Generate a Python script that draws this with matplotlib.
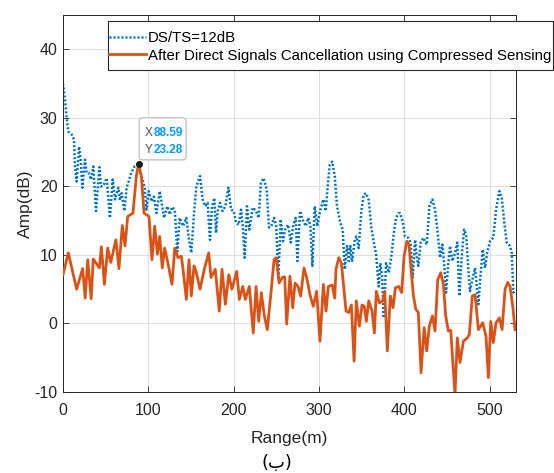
import matplotlib
matplotlib.use("Agg")
import matplotlib.pyplot as plt
from matplotlib.patches import FancyBboxPatch, Rectangle
from matplotlib.lines import Line2D
from matplotlib.transforms import IdentityTransform

# ---------------- data ----------------
range_blue = [0, 2.3, 4.3, 6.2, 10, 13, 14, 16, 18.8, 20.7, 22.7, 25.8, 27.7, 30, 32.8, 35.5,
              38.7, 42.6, 44.5, 47.3, 51.2, 55, 58.2, 61, 64.8, 66.8, 68.8, 71.9, 74.6, 77.7,
              80, 84, 88, 92, 95.8, 97.8, 100.5, 103.6, 106.5, 109.5, 113.4, 115.3, 118.5,
              122.3, 125, 128, 131, 134, 136.8, 140.7, 144.6, 147.7, 150.4, 153.6, 156.3,
              158.3, 160.6, 163.7, 166.8, 169.5, 172.3, 174.7, 177.4, 179.4, 181.4, 184, 187,
              190.3, 193.9, 197, 200.1, 202.8, 206, 208.7, 210.7, 213, 215.7, 218.4, 222.4,
              226.3, 229.4, 232, 235.2, 238.8, 241.4, 244.2, 247.4, 250, 252.4, 255.2, 257.9,
              260.3, 263.8, 267, 270, 272.8, 274.7, 277.9, 280.6, 284.6, 287.6, 290, 292.3,
              295.1, 298.1, 301.3, 305.2, 308, 309.9, 312.7, 315.6, 318.5, 321.2, 325, 327.9,
              330.2, 333, 335, 336.8, 338.8, 342, 343.8, 346.6, 349.7, 352.5, 355.2, 358.4,
              361.4, 364.3, 367, 370.1, 372, 374, 376, 378.7, 381.9, 384.9, 387.8, 390.4,
              393.6, 395, 398.2, 400.8, 404.7, 407.5, 409.9, 412.7, 414.6, 416.5, 419.3,
              422.4, 426.4, 429.5, 433, 436.1, 438.8, 442, 444.7, 446.7, 449, 451.7, 453.7,
              456.4, 459.6, 462.2, 464.6, 467.4, 470.1, 472.5, 475.2, 477.1, 479.8, 483, 485,
              486.9, 489.7, 492, 494.7, 497.4, 500.6, 504.4, 507.6, 511.5, 514.3, 517.3,
              520.1, 524, 526, 527.9, 529.9]
amp_blue = [35.0, 32.7, 30.0, 28.0, 27.6, 26.8, 22.9, 20.7, 25.8, 23.9, 19.8, 23.9, 22.0, 22.0,
            21.0, 22.9, 16.4, 22.8, 20.0, 20.1, 21.2, 15.4, 21.0, 18.1, 19.8, 18.0, 19.0, 16.4,
            19.8, 21.0, 22.0, 22.9, 23.0, 21.5, 19.8, 16.6, 19.3, 17.8, 18.5, 16.1, 19.3, 17.8,
            15.4, 17.1, 15.9, 17.0, 16.6, 10.5, 15.4, 14.2, 15.4, 12.2, 10.3, 16.1, 20.0, 20.7,
            21.5, 18.1, 17.1, 17.6, 12.2, 17.1, 18.3, 13.2, 16.4, 17.6, 16.4, 17.1, 19.8, 16.6,
            16.4, 14.7, 14.4, 16.6, 14.2, 9.6, 17.1, 13.7, 16.9, 16.4, 15.4, 20.5, 21.2, 19.5,
            14.0, 14.2, 15.4, 14.2, 6.4, 15.2, 12.0, 13.7, 14.4, 11.8, 14.4, 15.4, 9.1, 16.4,
            15.2, 14.2, 15.4, 14.2, 8.4, 17.1, 14.2, 16.4, 18.1, 16.4, 19.5, 23.2, 23.6, 21.5,
            17.1, 14.7, 13.7, 7.9, 11.3, 9.1, 11.3, 9.0, 12.2, 12.7, 11.0, 16.4, 18.8, 19.0,
            18.0, 14.0, 11.8, 10.1, 5.4, 8.8, 6.9, 0.8, 8.8, 7.4, 9.8, 13.2, 15.4, 16.1, 16.1,
            14.9, 12.7, 12.5, 11.8, 6.7, 12.2, 9.8, 8.4, 11.8, 12.5, 11.5, 17.1, 18.1, 16.6,
            13.7, 9.6, 11.5, 8.8, 4.5, 8.8, 11.3, 9.1, 10.3, 11.8, 4.0, 9.8, 13.7, 13.0, 7.9,
            4.7, 6.4, 8.1, 5.4, 2.8, 7.4, 10.8, 8.1, 10.5, 12.0, 12.5, 16.6, 19.3, 18.3, 14.7,
            11.8, 11.3, 10.3, 4.5, 4.8]

range_orange = [0, 6.2, 16, 23, 26, 29, 33, 35.5, 42.6, 45, 48.5, 52.4, 56, 62, 65.6, 69.5,
                72.7, 75.8, 82, 86, 88.59, 91.8, 95, 100.8, 104.3, 107.5, 110.6, 113.3, 116.4,
                119.1, 123, 127.8, 131, 134.8, 138.7, 140.7, 144.6, 147.7, 150.4, 153.6, 156,
                160.6, 165.6, 170.8, 173.5, 178.5, 183.2, 186.4, 190.3, 194.3, 198, 203.6,
                206.7, 210.7, 213.7, 218.4, 223, 226.3, 229.4, 232.5, 236, 239.5, 244.2, 247.4,
                250, 253.3, 257.1, 259.9, 262.2, 266, 269.3, 272, 275.5, 278.6, 282.5, 285.6,
                289.5, 293.4, 297.3, 301.2, 305.2, 308.3, 311, 315.6, 318.5, 320, 323.3, 326.3,
                329, 331.8, 334.9, 338, 341.2, 343.8, 347.4, 350.5, 353.2, 355.6, 358.4, 362.3,
                365, 367.3, 370.8, 374.8, 377.1, 380.2, 383.7, 386.9, 389.6, 393.5, 397, 399.8,
                403, 405.6, 408, 410.8, 413.5, 416.5, 419.7, 423.3, 426.3, 429.4, 433, 436.1,
                439.3, 442.8, 445.9, 448.6, 451.7, 454.5, 459.5, 462.2, 465.4, 469.3, 474,
                476.3, 479.8, 483, 486.9, 492, 495.9, 498.6, 501.4, 504.4, 507.6, 511.5, 514.7,
                518.2, 521.3, 524, 527.2, 529.9]
amp_orange = [7.1, 10.3, 5.0, 8.0, 3.7, 9.3, 3.6, 9.4, 8.1, 11.2, 5.7, 11.0, 8.9, 12.2, 8.0,
              14.3, 11.3, 15.6, 16.1, 21.5, 23.28, 21.5, 16.1, 15.6, 9.3, 14.2, 10.1, 12.7, 8.1,
              11.0, 8.8, 5.7, 11.0, 9.6, 9.8, 7.9, 3.5, 9.3, 4.0, 8.4, 7.6, 5.0, 7.9, 10.3, 6.7,
              7.9, 1.8, 7.9, 2.8, 7.1, 5.0, 7.6, 3.5, 5.4, 3.5, 5.4, -1.4, 5.4, 0.3, 4.5, 1.1,
              -0.9, 5.0, 9.3, 9.6, 5.9, 6.7, 6.8, -0.1, 6.9, 2.3, 5.9, 5.4, 4.0, 8.1, 6.7, 4.2,
              2.5, 4.7, -2.6, 5.7, 1.8, 5.4, 5.6, 3.7, 7.9, 9.6, 8.8, 5.4, 1.8, 1.6, 2.7, -5.5,
              3.3, -0.4, 2.7, 2.5, 0.3, 3.3, 1.8, -1.4, 4.7, 3.0, 3.3, 4.7, -4.0, 4.0, 2.3, 5.2,
              5.4, 4.5, 9.8, 12.0, 11.5, 7.9, 4.0, 2.1, 1.6, -7.2, -0.6, -4.0, -0.4, 1.1, -1.1,
              6.4, 7.4, 5.7, 1.1, -1.1, -1.0, -10.4, -2.1, -5.7, -2.6, -2.1, -1.6, 4.0, 4.2,
              -0.9, 0.1, -1.9, -7.9, 0.3, -2.8, 0.1, 0.8, -0.9, 5.0, 6.0, 5.4, 2.5, -0.9]

x_ticks = [0, 100, 200, 300, 400, 500]
y_ticks = [-10, 0, 10, 20, 30, 40]
x_limits = [0, 531]
y_limits = [-10, 45]
tip_x, tip_y = 88.59, 23.28
series_labels = ["DS/TS=12dB", "After Direct Signals Cancellation using Compressed Sensing"]
x_label = "Range(m)"
y_label = "Amp(dB)"
caption = "(ب)"

# ---------------- styling ----------------
plt.rcParams["font.family"] = ["Liberation Sans", "DejaVu Sans"]
plt.rcParams["axes.unicode_minus"] = False
W, H = 554, 473
DARK = "#262626"
BLUE = "#0072BD"
ORANGE = "#D95319"

fig = plt.figure(figsize=(W / 100, H / 100), dpi=100)
fig.patch.set_facecolor("white")
ax = fig.add_axes([63 / W, 1 - 392 / H, (516 - 63) / W, (392 - 15) / H])

ax.plot(range_blue, amp_blue, color=BLUE, lw=1.8, ls=(0, (0.8, 0.8)), zorder=2)
ax.plot(range_orange, amp_orange, color=ORANGE, lw=2.0, zorder=3)

ax.set_xlim(x_limits)
ax.set_ylim(y_limits)
ax.set_xticks(x_ticks)
ax.set_yticks(y_ticks)
ax.grid(True, color="#dedede", lw=0.7)
ax.set_axisbelow(True)
ax.tick_params(direction="in", length=4, width=0.6, top=True, right=True,
               labelsize=11.5, colors=DARK)
ax.tick_params(axis="x", pad=8)
ax.tick_params(axis="y", pad=4)
for s in ax.spines.values():
    s.set_color(DARK)
    s.set_linewidth(0.7)
ax.set_xlabel(x_label, fontsize=12.5, color=DARK, labelpad=9)
ax.set_ylabel(y_label, fontsize=12.5, color=DARK, labelpad=1)

# data tip
ax.plot([tip_x], [tip_y], "o", color="#1a1a1a", ms=4, zorder=6)
px, py = ax.transData.transform((tip_x, tip_y))
box = FancyBboxPatch((px + 0.5, py + 4), 47, 42,
                     boxstyle="round,pad=0,rounding_size=3",
                     transform=IdentityTransform(), facecolor="white",
                     edgecolor="#b5b5b5", lw=0.8, zorder=7)
fig.add_artist(box)
for i, (lab, val) in enumerate([("X", tip_x), ("Y", tip_y)]):
    yy = py + 31 - 17 * i
    fig.text(px + 6.5, yy, lab, transform=IdentityTransform(), fontsize=8.5,
             color="#505050", va="center", ha="left", zorder=8)
    fig.text(px + 15, yy, f"{val:.2f}", transform=IdentityTransform(), fontsize=8.5,
             color="#0099FF", va="center", ha="left", fontweight="bold", zorder=8)

# legend
frame = Rectangle((108 / W, 1 - 70 / H), (553 - 108) / W, (70 - 21) / H,
                  transform=fig.transFigure, facecolor="white", edgecolor=DARK,
                  lw=0.8, zorder=4)
fig.add_artist(frame)
handles = [Line2D([], [], color=BLUE, lw=1.8, ls=(0, (0.8, 0.8))),
           Line2D([], [], color=ORANGE, lw=2.0)]
leg = fig.legend(handles, series_labels, loc="upper left",
                 bbox_to_anchor=(109 / W, 1 - 31 / H), bbox_transform=fig.transFigure,
                 frameon=False, fontsize=10.8, handlelength=2.45, handletextpad=0.15,
                 borderpad=0, labelspacing=0.25, borderaxespad=0)
leg.set_zorder(5)
for t in leg.get_texts():
    t.set_color("#000000")

fig.text(0.5, 1 - 463 / H, caption, ha="center", va="center", fontsize=13, color="#000000",
         family=["DejaVu Sans"])

fig.savefig("out.png", dpi=100)
